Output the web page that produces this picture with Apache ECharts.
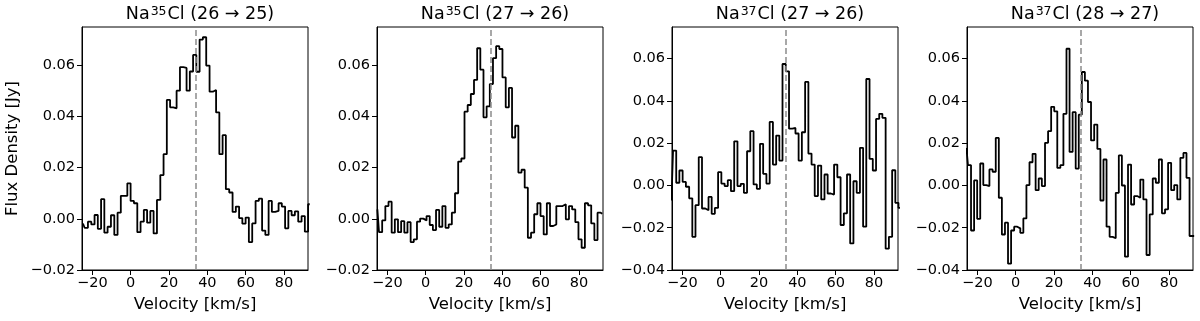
<!DOCTYPE html>
<html>
<head>
<meta charset="utf-8">
<script src="https://cdn.jsdelivr.net/npm/echarts@6/dist/echarts.min.js"></script>
<style>
  html, body { margin: 0; background: #fff; }
  #chart { width: 1200px; height: 321px; }
</style>
</head>
<body>
<div id="chart"></div>
<script>
// channel centre velocities [km/s] and flux densities [Jy] for each line
var vel1 = [-24.9,-23.2,-21.4,-19.7,-18.0,-16.3,-14.6,-12.9,-11.2,-9.4,
  -7.7,-6.0,-4.3,-2.6,-0.9,0.8,2.6,4.3,6.0,7.7,
  9.4,11.1,12.8,14.6,16.3,18.0,19.7,21.4,23.1,24.8,
  26.6,28.3,30.0,31.7,33.4,35.1,36.8,38.5,40.3,42.0,
  43.7,45.4,47.1,48.8,50.5,52.3,54.0,55.7,57.4,59.1,
  60.8,62.5,64.3,66.0,67.7,69.4,71.1,72.8,74.5,76.3,
  78.0,79.7,81.4,83.1,84.8,86.5,88.3,90.0,91.7,93.4];
var flux1 = [-0.0018,-0.0035,-0.0011,-0.0022,0.0015,-0.0039,0.0077,-0.0054,-0.0031,0.0014,
  -0.0063,0.0024,0.0090,0.0090,0.0139,0.0070,0.0061,-0.0052,-0.0011,0.0035,
  -0.0015,0.0031,-0.0057,0.0074,0.0171,0.0253,0.0465,0.0436,0.0432,0.0501,
  0.0593,0.0590,0.0501,0.0576,0.0641,0.0575,0.0701,0.0710,0.0599,0.0497,
  0.0504,0.0416,0.0253,0.0327,0.0116,0.0103,0.0027,0.0048,0.0003,-0.0019,
  0.0005,-0.0091,-0.0018,0.0070,0.0079,-0.0046,-0.0063,0.0070,0.0027,0.0031,
  0.0061,0.0048,-0.0037,0.0031,0.0014,0.0029,-0.0011,0.0011,-0.0050,0.0057];

var vel2 = [-25.2,-23.5,-21.9,-20.2,-18.6,-16.9,-15.3,-13.6,-12.0,-10.3,
  -8.7,-7.0,-5.4,-3.7,-2.1,-0.4,1.3,2.9,4.6,6.2,
  7.9,9.5,11.2,12.8,14.5,16.1,17.8,19.4,21.1,22.7,
  24.4,26.0,27.7,29.3,31.0,32.6,34.3,35.9,37.6,39.2,
  40.9,42.6,44.2,45.9,47.5,49.2,50.8,52.5,54.1,55.8,
  57.4,59.1,60.7,62.4,64.0,65.7,67.3,69.0,70.6,72.3,
  73.9,75.6,77.2,78.9,80.5,82.2,83.9,85.5,87.2,88.8,
  90.5,92.1];
var flux2 = [0.0037,-0.0052,-0.0006,0.0050,0.0067,-0.0054,-0.0002,-0.0052,-0.0009,-0.0054,
  -0.0013,-0.0091,-0.0080,-0.0011,0.0001,-0.0006,0.0011,-0.0024,-0.0044,0.0035,
  -0.0031,0.0050,-0.0035,-0.0022,0.0024,0.0100,0.0224,0.0236,0.0419,0.0445,
  0.0488,0.0543,0.0667,0.0583,0.0397,0.0440,0.0527,0.0628,0.0675,0.0664,
  0.0553,0.0436,0.0512,0.0318,0.0364,0.0181,0.0192,0.0122,-0.0074,-0.0054,
  0.0018,0.0061,0.0011,-0.0061,0.0061,-0.0028,-0.0022,0.0050,0.0050,0.0057,
  -0.0002,0.0050,0.0037,-0.0013,-0.0080,-0.0113,0.0061,0.0053,-0.0018,-0.0083,
  0.0024,0.0020];

var vel3 = [-25.7,-24.0,-22.4,-20.7,-19.0,-17.3,-15.6,-14.0,-12.3,-10.6,
  -8.9,-7.2,-5.5,-3.9,-2.2,-0.5,1.2,2.9,4.5,6.2,
  7.9,9.6,11.3,12.9,14.6,16.3,18.0,19.7,21.3,23.0,
  24.7,26.4,28.1,29.8,31.4,33.1,34.8,36.5,38.2,39.8,
  41.5,43.2,44.9,46.6,48.2,49.9,51.6,53.3,55.0,56.6,
  58.3,60.0,61.7,63.4,65.1,66.7,68.4,70.1,71.8,73.5,
  75.1,76.8,78.5,80.2,81.9,83.5,85.2,86.9,88.6,90.3,
  91.9,93.6];
var flux3 = [-0.0071,0.0165,0.0013,0.0071,0.0017,-0.0006,-0.0061,-0.0243,-0.0093,0.0134,
  -0.0109,-0.0117,-0.0054,-0.0134,-0.0106,0.0063,0.0009,-0.0003,0.0025,-0.0027,
  0.0209,-0.0003,0.0008,-0.0035,0.0162,0.0257,0.0005,-0.0016,0.0197,0.0055,
  0.0009,0.0301,0.0099,0.0236,0.0118,0.0575,0.0540,0.0269,0.0272,0.0246,
  0.0118,0.0252,0.0490,0.0151,0.0099,-0.0050,0.0094,-0.0066,0.0052,-0.0038,
  -0.0043,0.0099,0.0039,-0.0187,-0.0132,0.0052,-0.0274,0.0020,-0.0035,0.0178,
  -0.0195,0.0504,0.0126,0.0071,0.0315,0.0339,0.0320,-0.0299,-0.0243,0.0072,
  -0.0082,-0.0106];

var vel4 = [-25.7,-24.1,-22.5,-20.9,-19.3,-17.7,-16.1,-14.5,-12.9,-11.2,
  -9.6,-8.0,-6.4,-4.8,-3.2,-1.6,0.0,1.6,3.2,4.8,
  6.4,8.0,9.6,11.2,12.8,14.5,16.1,17.7,19.3,20.9,
  22.5,24.1,25.7,27.3,28.9,30.5,32.1,33.7,35.3,36.9,
  38.5,40.1,41.8,43.4,45.0,46.6,48.2,49.8,51.4,53.0,
  54.6,56.2,57.8,59.4,61.0,62.6,64.2,65.8,67.4,69.1,
  70.7,72.3,73.9,75.5,77.1,78.7,80.3,81.9,83.5,85.1,
  86.7,88.3,89.9,91.5,93.1];
var flux4 = [0.0178,0.0096,-0.0213,0.0024,-0.0158,0.0104,0.0002,-0.0003,0.0076,0.0065,
  0.0225,-0.0058,-0.0232,-0.0176,-0.0370,-0.0213,-0.0195,-0.0203,-0.0224,-0.0156,
  0.0002,0.0110,0.0150,-0.0022,0.0033,-0.0003,0.0202,0.0257,0.0372,0.0351,
  0.0083,0.0096,0.0339,0.0647,0.0159,0.0347,0.0080,0.0335,0.0537,0.0496,
  0.0395,0.0213,0.0288,0.0173,-0.0071,0.0123,-0.0195,-0.0243,-0.0250,-0.0035,
  0.0142,0.0000,-0.0337,0.0099,-0.0090,-0.0050,-0.0058,0.0028,-0.0066,-0.0329,
  -0.0137,0.0033,0.0013,0.0123,-0.0132,-0.0113,0.0107,-0.0022,0.0002,-0.0066,
  0.0131,0.0154,0.0036,-0.0239,-0.0239];

var isotopes = ['35', '35', '37', '37'];
var transitions = ['(26 \u2192 25)', '(27 \u2192 26)', '(27 \u2192 26)', '(28 \u2192 27)'];
var xTicks = [-20, 0, 20, 40, 60, 80];
var yTicksA = [-0.02, 0, 0.02, 0.04, 0.06];
var yTicksB = [-0.04, -0.02, 0, 0.02, 0.04, 0.06];
var vSys = 34;

var vels = [vel1, vel2, vel3, vel4];
var fluxes = [flux1, flux2, flux3, flux4];
var yTickSets = [yTicksA, yTicksA, yTicksB, yTicksB];

var FONT = 'DejaVu Sans';
var plotLeft = 82, plotStep = 295, plotW = 226, plotTop = 27, plotH = 243;

function fmtY(v) {
  var s = Math.abs(v).toFixed(2);
  return v < -1e-9 ? '\u2212' + s : s;
}
function fmtX(v) {
  return v < 0 ? '\u2212' + Math.abs(v) : String(v);
}

var grid = [], xAxis = [], yAxis = [], series = [], title = [];
for (var i = 0; i < 4; i++) {
  var left = plotLeft + i * plotStep;
  var yt = yTickSets[i];
  grid.push({
    left: left, top: plotTop, width: plotW, height: plotH,
    show: true, borderColor: '#000', borderWidth: 1, backgroundColor: 'transparent'
  });
  title.push({
    text: '{n|Na}{s|' + isotopes[i] + '}{n|Cl ' + transitions[i] + '}',
    left: left + plotW / 2, top: 0, textAlign: 'center',
    textStyle: {
      fontWeight: 'normal',
      rich: {
        n: { fontFamily: FONT, fontSize: 17.5, fontWeight: 'normal', color: '#000' },
        s: { fontFamily: FONT, fontSize: 12.5, fontWeight: 'normal', color: '#000', verticalAlign: 'top', padding: [0, 1, 0, 1] }
      }
    }
  });
  xAxis.push({
    type: 'value', gridIndex: i, min: -25.4, max: 92.5,
    name: 'Velocity [km/s]', nameLocation: 'middle', nameGap: 23,
    nameTextStyle: { fontFamily: FONT, fontSize: 16.5, color: '#000' },
    axisLine: { onZero: false, lineStyle: { color: '#000', width: 1 } },
    axisTick: { show: true, length: 5, customValues: xTicks, lineStyle: { color: '#000' } },
    axisLabel: { customValues: xTicks, margin: 6, fontFamily: FONT, fontSize: 14.5, color: '#000', formatter: fmtX },
    splitLine: { show: false }
  });
  yAxis.push({
    type: 'value', gridIndex: i, min: yt[0], max: 0.075,
    name: i === 0 ? 'Flux Density [Jy]' : '', nameLocation: 'middle', nameGap: 61,
    nameTextStyle: { fontFamily: FONT, fontSize: 16.5, color: '#000' },
    axisLine: { onZero: false, lineStyle: { color: '#000', width: 1 } },
    axisTick: { show: true, length: 5, customValues: yt, lineStyle: { color: '#000' } },
    axisLabel: { customValues: yt, margin: 7, fontFamily: FONT, fontSize: 14.5, color: '#000', formatter: fmtY },
    splitLine: { show: false }
  });
  series.push({
    type: 'line', xAxisIndex: i, yAxisIndex: i, step: 'middle',
    showSymbol: false, clip: true,
    lineStyle: { color: '#000', width: 1.8 },
    data: vels[i].map(function (v, k) { return [v, fluxes[i][k]]; }),
    markLine: {
      silent: true, symbol: 'none', label: { show: false },
      lineStyle: { color: '#8c8c8c', type: [6, 3], width: 1.5 },
      data: [{ xAxis: vSys }]
    }
  });
}

var chart = echarts.init(document.getElementById('chart'), null, { renderer: 'canvas' });
chart.setOption({
  animation: false,
  backgroundColor: '#fff',
  title: title,
  grid: grid,
  xAxis: xAxis,
  yAxis: yAxis,
  series: series
});
</script>
</body>
</html>
